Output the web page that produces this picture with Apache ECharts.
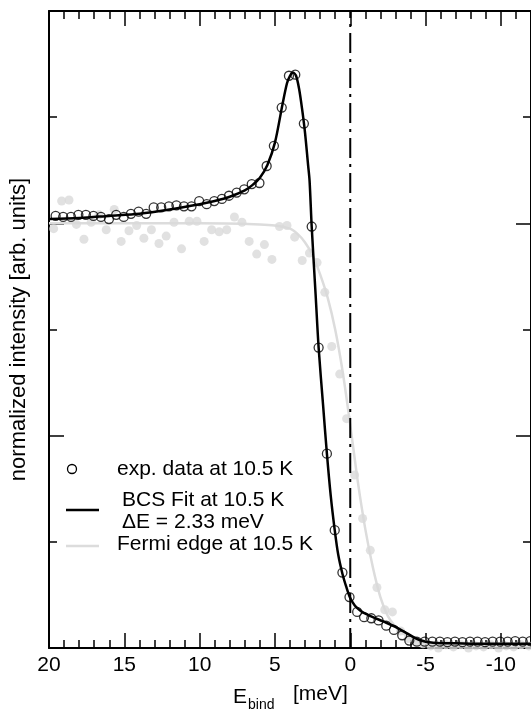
<!DOCTYPE html>
<html>
<head>
<meta charset="utf-8">
<script src="https://cdn.jsdelivr.net/npm/echarts@6/dist/echarts.min.js"></script>
<style>
html,body{margin:0;padding:0;background:#fff;}
#chart{width:531px;height:711px;}
</style>
</head>
<body>
<div id="chart"></div>
<script>
// ---- data (binding energy in meV, normalized intensity) ----
const expE = [19.56,19.06,18.54,18.05,17.55,17.05,16.55,16.02,15.54,15.04,14.56,14.05,13.55,13.05,12.55,12.04,11.54,11.04,10.54,10.03,9.53,9.03,8.52,8.05,7.54,7.04,6.54,6.03,5.55,5.07,4.55,4.07,3.65,3.08,2.56,2.10,1.55,1.03,0.52,0.05,-0.46,-0.92,-1.40,-1.88,-2.39,-2.90,-3.45,-3.92,-4.42,-4.94,-5.45,-5.95,-6.45,-6.95,-7.45,-7.95,-8.45,-8.95,-9.45,-9.95,-10.45,-10.95,-11.45,-11.95];
const expV = [4.07,4.06,4.06,4.08,4.08,4.07,4.06,4.04,4.08,4.06,4.09,4.11,4.09,4.15,4.15,4.16,4.17,4.16,4.16,4.21,4.18,4.21,4.23,4.26,4.29,4.32,4.37,4.38,4.54,4.73,5.09,5.39,5.40,4.94,3.97,2.83,1.83,1.11,0.71,0.48,0.34,0.29,0.28,0.26,0.21,0.17,0.12,0.07,0.06,0.06,0.06,0.06,0.055,0.06,0.055,0.06,0.06,0.055,0.06,0.06,0.06,0.065,0.06,0.065];

const bcsE = [20,18,16,14,12,10,9,8,7,6.5,6,5.5,5,4.5,4.2,4.0,3.8,3.6,3.4,3.2,3.0,2.8,2.7,2.56,2.3,2.1,1.8,1.55,1.3,1.03,0.8,0.52,0.25,0.0,-0.3,-0.6,-0.9,-1.5,-2.2,-3.0,-3.74,-4.6,-5.5,-7,-9,-12];
const bcsV = [4.04,4.05,4.07,4.09,4.13,4.18,4.21,4.25,4.31,4.36,4.43,4.55,4.76,5.12,5.32,5.39,5.42,5.39,5.27,5.08,4.85,4.55,4.40,3.97,3.33,2.83,2.28,1.83,1.44,1.11,0.88,0.70,0.57,0.47,0.40,0.36,0.33,0.29,0.25,0.20,0.14,0.075,0.05,0.045,0.04,0.04];

const fermiE = [20,10,6,5,4,3.5,3,2.5,2,1.5,1.0,0.5,0.0,-0.5,-1.0,-1.5,-2.0,-2.5,-3.0,-3.5,-4,-5,-6,-12];
const fermiV = [4.0,4.0,3.99,3.98,3.95,3.9,3.82,3.7,3.52,3.3,3.0,2.6,2.1,1.57,1.12,0.76,0.48,0.30,0.2,0.14,0.09,0.05,0.04,0.04];

const grayE = [19.69,19.16,18.67,18.18,17.68,17.20,16.68,16.20,15.67,15.21,14.69,14.18,13.70,13.20,12.70,12.22,11.70,11.20,10.69,10.18,9.70,9.20,8.70,8.20,7.69,7.19,6.71,6.21,5.70,5.20,4.70,4.20,3.69,3.19,2.71,2.20,1.69,1.23,0.70,0.24,-0.29,-0.82,-1.33,-1.77,-2.29,-2.80,-3.34,-3.85,-4.39,-4.83,-5.35,-5.85,-6.35,-6.85,-7.35,-7.85,-8.35,-8.85,-9.35,-9.85,-10.35,-10.85,-11.35,-11.85];
const grayV = [3.95,4.21,4.22,3.99,3.85,4.01,4.08,3.94,4.13,3.83,3.93,3.98,3.86,3.94,3.81,3.88,4.01,3.76,4.02,4.02,3.83,3.94,3.92,3.94,4.06,4.01,3.83,3.71,3.80,3.66,3.97,3.98,3.87,3.65,3.72,3.63,3.35,2.84,2.58,2.16,1.63,1.22,0.92,0.57,0.36,0.34,0.16,0.09,0.06,0.04,0.02,0.0,0.03,0.01,0.03,0.0,0.02,0.01,0.03,0.0,0.02,0.01,0.03,0.02];

const xMajorTicks = [-10,-5,0,5,10,15,20];
const fermiLevelE = [0, 0];
const fermiLevelV = [0, 6];

const legendTexts = ['exp. data at 10.5 K','BCS Fit at 10.5 K','\u0394E = 2.33 meV','Fermi edge at 10.5 K'];
const yTitle = 'normalized intensity [arb. units]';

// ---- chart ----
const FONT = '"Liberation Sans", Arial, Helvetica, sans-serif';
const pairs = (a,b) => a.map((v,i)=>[v,b[i]]);
const chart = echarts.init(document.getElementById('chart'), null, {renderer:'canvas'});

function xAx(pos, major){
  return {
    type:'value', position:pos, min:-12, max:20, inverse:true,
    interval: major ? undefined : 1,
    axisLine:{show:major, onZero:false, lineStyle:{color:'#000', width:2}},
    axisTick:major ? {show:true, inside:true, length:15, customValues:xMajorTicks, lineStyle:{color:'#000', width:1.5}}
                   : {show:true, inside:true, length:8, lineStyle:{color:'#000', width:1.5}},
    axisLabel:(major && pos==='bottom') ? {show:true, customValues:xMajorTicks, fontSize:21, fontFamily:FONT, color:'#000', margin:7} : {show:false},
    splitLine:{show:false}
  };
}
function yAx(pos){
  const a = {
    type:'value', position:pos, min:0, max:6, interval:2,
    axisLine:{show:true, onZero:false, lineStyle:{color:'#000', width:2}},
    axisTick:{show:true, inside:true, length:15, lineStyle:{color:'#000', width:1.5}},
    minorTick:{show:true, splitNumber:2, length:8, lineStyle:{color:'#000', width:1.5}},
    axisLabel:{show:false}, splitLine:{show:false}, minorSplitLine:{show:false}
  };
  if(pos==='left'){
    a.name = yTitle; a.nameLocation='middle'; a.nameGap=19;
    a.nameTextStyle = {fontSize:22, fontFamily:FONT, color:'#000'};
  }
  return a;
}

chart.setOption({
  backgroundColor:'#fff',
  animation:false,
  grid:{left:48, right:-4, top:11, bottom:63, containLabel:false},
  xAxis:[xAx('bottom',true), xAx('bottom',false), xAx('top',true), xAx('top',false)],
  yAxis:[yAx('left'), yAx('right')],
  series:[
    {type:'line', name:'fermi', data:pairs(fermiE,fermiV), smooth:0.3, symbol:'none', lineStyle:{color:'#dcdcdc', width:2.5}, z:1},
    {type:'scatter', name:'gray', data:pairs(grayE,grayV), symbol:'circle', symbolSize:9, itemStyle:{color:'#d9d9d9'}, z:2},
    {type:'line', name:'bcs', data:pairs(bcsE,bcsV), smooth:0.3, symbol:'none', lineStyle:{color:'#000', width:2.5}, z:3},
    {type:'scatter', name:'exp', data:pairs(expE,expV), symbol:'circle', symbolSize:9, itemStyle:{color:'rgba(0,0,0,0)', borderColor:'#000', borderWidth:1.3}, z:4},
    {type:'line', name:'ef', data:pairs(fermiLevelE,fermiLevelV), symbol:'none', lineStyle:{color:'#000', width:2, type:[20,6,3,6]}, z:5}
  ],
  graphic:[
    {type:'circle', shape:{cx:72, cy:469, r:4.5}, style:{fill:'none', stroke:'#000', lineWidth:1.3}},
    {type:'text', x:117, y:469, style:{text:legendTexts[0], font:'21px '+FONT, fill:'#000', verticalAlign:'middle'}},
    {type:'line', shape:{x1:66, y1:510, x2:99, y2:510}, style:{stroke:'#000', lineWidth:2.5}},
    {type:'text', x:122, y:500, style:{text:legendTexts[1], font:'21px '+FONT, fill:'#000', verticalAlign:'middle'}},
    {type:'text', x:122, y:522, style:{text:legendTexts[2], font:'21px '+FONT, fill:'#000', verticalAlign:'middle'}},
    {type:'line', shape:{x1:66, y1:546, x2:99, y2:546}, style:{stroke:'#dcdcdc', lineWidth:2.5}},
    {type:'text', x:117, y:544, style:{text:legendTexts[3], font:'21px '+FONT, fill:'#000', verticalAlign:'middle'}},
    {type:'text', x:233, y:697, style:{text:'E', font:'21px '+FONT, fill:'#000', verticalAlign:'middle'}},
    {type:'text', x:248, y:705, style:{text:'bind', font:'14px '+FONT, fill:'#000', verticalAlign:'middle'}},
    {type:'text', x:293, y:694, style:{text:'[meV]', font:'21px '+FONT, fill:'#000', verticalAlign:'middle'}}
  ]
});
</script>
</body>
</html>
